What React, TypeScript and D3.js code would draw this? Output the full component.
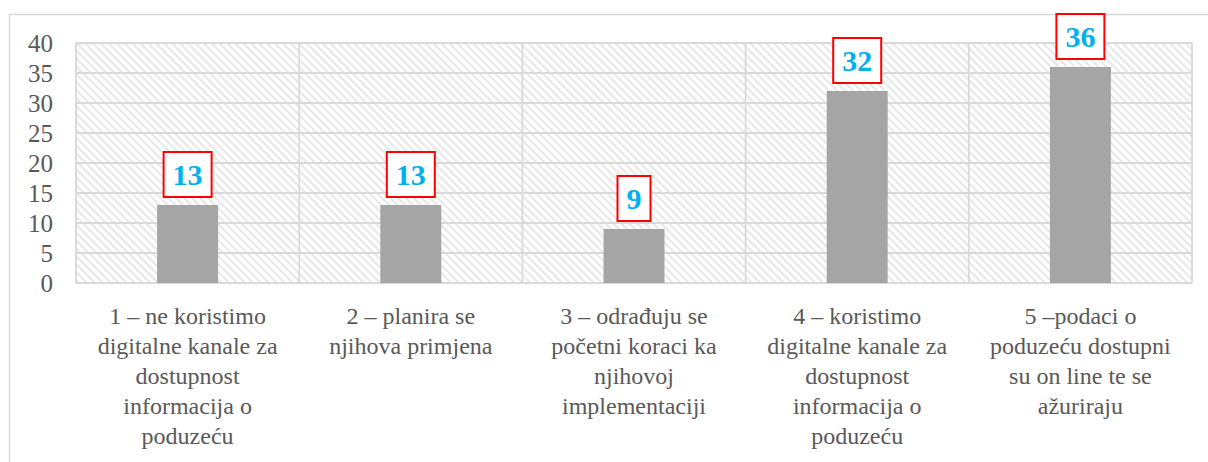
import React, { useEffect, useRef } from 'react';
import * as d3 from 'd3';

// chart data
const categories = [
  '1 – ne koristimo\ndigitalne kanale za\ndostupnost\ninformacija o\npoduzeću',
  '2 – planira se\nnjihova primjena',
  '3 – odrađuju se\npočetni koraci ka\nnjihovoj\nimplementaciji',
  '4 – koristimo\ndigitalne kanale za\ndostupnost\ninformacija o\npoduzeću',
  '5 –podaci o\npoduzeću dostupni\nsu on line te se\nažuriraju',
];
const values = [13, 13, 9, 32, 36];
const yTicks = [0, 5, 10, 15, 20, 25, 30, 35, 40];

const W = 1208;
const H = 462;
const FONT = "'Liberation Serif', 'Times New Roman', Times, Tinos, 'Noto Serif', 'DejaVu Serif', FreeSerif, serif";

const App = () => {
  const ref = useRef<SVGSVGElement>(null);

  useEffect(() => {
    const svg = d3.select(ref.current);
    svg.selectAll('*').remove();

    const left = 76, right = 1192, top = 43, bottom = 283;

    const x = d3.scaleBand<number>()
      .domain(d3.range(categories.length))
      .range([left, right])
      .padding(0);
    const y = d3.scaleLinear().domain([0, 40]).range([bottom, top]);

    // hatch pattern for plot background
    const defs = svg.append('defs');
    const pat = defs.append('pattern')
      .attr('id', 'hatch')
      .attr('patternUnits', 'userSpaceOnUse')
      .attr('width', 5.6)
      .attr('height', 5.6)
      .attr('patternTransform', 'rotate(-45)');
    pat.append('rect').attr('width', 5.6).attr('height', 5.6).attr('fill', '#ffffff');
    pat.append('line')
      .attr('x1', 1.4).attr('y1', 0).attr('x2', 1.4).attr('y2', 5.6)
      .attr('stroke', '#e2e2e2')
      .attr('stroke-width', 1.7);

    // outer frame
    svg.append('rect')
      .attr('x', 9.5).attr('y', 14.5)
      .attr('width', 1210).attr('height', 470)
      .attr('fill', '#ffffff')
      .attr('stroke', '#d9d9d9')
      .attr('stroke-width', 1.5);

    // plot background
    svg.append('rect')
      .attr('x', left).attr('y', top)
      .attr('width', right - left).attr('height', bottom - top)
      .attr('fill', 'url(#hatch)');

    // horizontal gridlines
    svg.append('g')
      .selectAll('line')
      .data(yTicks)
      .join('line')
      .attr('x1', left).attr('x2', right)
      .attr('y1', d => y(d)).attr('y2', d => y(d))
      .attr('stroke', '#d9d9d9')
      .attr('stroke-width', 1.8);

    // vertical category separators + plot border
    const xs = d3.range(categories.length + 1).map(i => left + i * x.bandwidth());
    svg.append('g')
      .selectAll('line')
      .data(xs)
      .join('line')
      .attr('x1', d => d).attr('x2', d => d)
      .attr('y1', top).attr('y2', bottom)
      .attr('stroke', '#d9d9d9')
      .attr('stroke-width', 1.8);

    // y tick labels
    svg.append('g')
      .selectAll('text')
      .data(yTicks)
      .join('text')
      .attr('x', 53)
      .attr('y', d => y(d))
      .attr('dy', '0.35em')
      .attr('text-anchor', 'end')
      .attr('font-family', FONT)
      .attr('font-size', 25)
      .attr('fill', '#595959')
      .text(d => d);

    // bars
    const bw = x.bandwidth() * 0.273;
    svg.append('g')
      .selectAll('rect')
      .data(values)
      .join('rect')
      .attr('x', (d, i) => x(i)! + x.bandwidth() / 2 - bw / 2)
      .attr('y', d => y(d))
      .attr('width', bw)
      .attr('height', d => bottom - y(d))
      .attr('fill', '#a5a5a5');

    // data labels in red boxes
    const lab = svg.append('g')
      .selectAll('g')
      .data(values)
      .join('g')
      .attr('transform', (d, i) => `translate(${x(i)! + x.bandwidth() / 2},${y(d) - 8})`);
    lab.append('rect')
      .attr('x', d => -(String(d).length * 15 + 18) / 2)
      .attr('y', -45)
      .attr('width', d => String(d).length * 15 + 18)
      .attr('height', 45)
      .attr('fill', '#ffffff')
      .attr('stroke', '#ff0000')
      .attr('stroke-width', 2);
    lab.append('text')
      .attr('x', 0)
      .attr('y', -22.5)
      .attr('dy', '0.35em')
      .attr('text-anchor', 'middle')
      .attr('font-family', FONT)
      .attr('font-size', 30)
      .attr('font-weight', 'bold')
      .attr('fill', '#00b0f0')
      .text(d => d);

    // category labels
    const cat = svg.append('g')
      .selectAll('text')
      .data(categories)
      .join('text')
      .attr('text-anchor', 'middle')
      .attr('font-family', FONT)
      .attr('font-size', 24)
      .attr('fill', '#595959');
    cat.selectAll('tspan')
      .data((d, i) => d.split('\n').map(s => ({ s, i })))
      .join('tspan')
      .attr('x', d => x(d.i)! + x.bandwidth() / 2)
      .attr('y', (d, j) => 324 + j * 30)
      .text(d => d.s);
  }, []);

  return (
    <svg
      ref={ref}
      width={W}
      height={H}
      style={{ position: 'absolute', left: 0, top: 0, display: 'block', background: '#ffffff' }}
    />
  );
};

export default App;
